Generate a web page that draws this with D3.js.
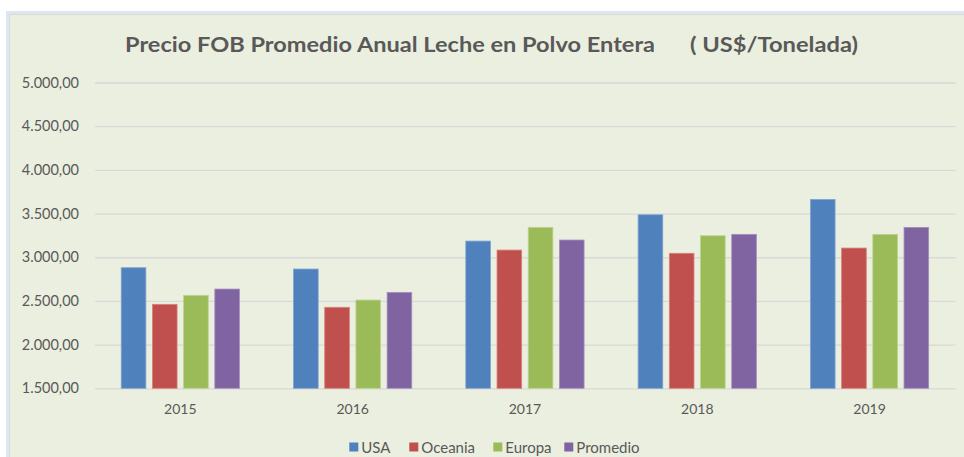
<!DOCTYPE html>
<html><head><meta charset="utf-8">
<script src="https://cdn.jsdelivr.net/npm/d3@7"></script>
<style>
html,body{margin:0;padding:0;background:#fff;}
svg{display:block;}
text{font-family:Lato,"Open Sans",sans-serif;}
</style></head>
<body><svg id="c" width="964" height="457"></svg>
<script>
const years = ["2015","2016","2017","2018","2019"];
const seriesNames = ["USA","Oceania","Europa","Promedio"];
const usa = [2880, 2865, 3185, 3486, 3662];
const oceania = [2461, 2427, 3082, 3045, 3105];
const europa = [2564, 2510, 3342, 3246, 3262];
const promedio = [2636, 2598, 3197, 3262, 3342];
const yTicks = [1500,2000,2500,3000,3500,4000,4500,5000];
const colors = ["#4F81BD","#C0504D","#9BBB59","#8064A2"];
const strokes = ["#7FA3D3","#D8807D","#BDD48C","#A590C0"];
const seriesValues = [usa, oceania, europa, promedio];

const svg = d3.select("#c");
// panel
svg.append("rect").attr("x",6).attr("y",11).attr("width",958).attr("height",446).attr("fill","#DCE6F5");
svg.append("rect").attr("x",9).attr("y",14).attr("width",955).attr("height",443).attr("fill","#D9DDD0");
svg.append("rect").attr("x",10).attr("y",15).attr("width",954).attr("height",442).attr("fill","#EBEFDF");

const title = svg.append("g").attr("fill","#595959").style("font-weight","bold").style("font-size","21px");
title.append("text").attr("x",125).attr("y",52).attr("textLength",530).attr("lengthAdjust","spacingAndGlyphs")
  .text("Precio FOB Promedio Anual Leche en Polvo Entera");
title.append("text").attr("x",690).attr("y",52).attr("textLength",168).attr("lengthAdjust","spacingAndGlyphs")
  .text("( US$/Tonelada)");

const y = d3.scaleLinear().domain([1500,5000]).range([388.3, 82.5]);
const x0 = d3.scaleBand().domain(years).range([94.2, 955.7]).padding(0);
const half = x0.bandwidth()/2;
const x1 = d3.scaleBand().domain(seriesNames).range([half-62.4, half+62.4]).paddingInner(0.21).paddingOuter(0.105);

// gridlines
const yAxis = d3.axisLeft(y).tickValues(yTicks).tickSize(-(955.7-95)).tickPadding(16)
  .tickFormat(d => d3.formatLocale({decimal:",",thousands:".",grouping:[3],currency:["",""]}).format(",.2f")(d));
const ga = svg.append("g").attr("transform","translate(95,0)").call(yAxis);
ga.select(".domain").remove();
ga.selectAll(".tick line").attr("stroke","#D9D9D9").attr("stroke-width",1.3);
ga.selectAll(".tick text").attr("fill","#595959").style("font-size","14.5px");

// bars
const groups = svg.append("g").selectAll("g").data(years).join("g")
  .attr("transform", d => `translate(${x0(d)},0)`);
groups.selectAll("rect").data((d,i) => seriesNames.map((s,j) => ({s, j, v: seriesValues[j][i]})))
  .join("rect")
  .attr("x", d => x1(d.s)).attr("width", x1.bandwidth())
  .attr("y", d => y(d.v)).attr("height", d => y(1500) - y(d.v))
  .attr("fill", d => colors[d.j]).attr("stroke", d => strokes[d.j]).attr("stroke-width",0.8);

// x axis labels
const xAxis = d3.axisBottom(x0).tickSize(0).tickPadding(16);
const gx = svg.append("g").attr("transform",`translate(0,${y(1500)})`).call(xAxis);
gx.select(".domain").remove();
gx.selectAll(".tick text").attr("fill","#595959").style("font-size","14px");

// legend
const legX = [349.3, 409.3, 493.3, 564.3];
const leg = svg.append("g").selectAll("g").data(seriesNames).join("g")
  .attr("transform", (d,i) => `translate(${legX[i]},447)`);
leg.append("rect").attr("x",0).attr("y",-4.5).attr("width",9).attr("height",9).attr("fill",(d,i)=>colors[i]);
leg.append("text").attr("x",12).attr("y",5.5).attr("fill","#595959").style("font-size","15px").text(d=>d);
</script></body></html>
